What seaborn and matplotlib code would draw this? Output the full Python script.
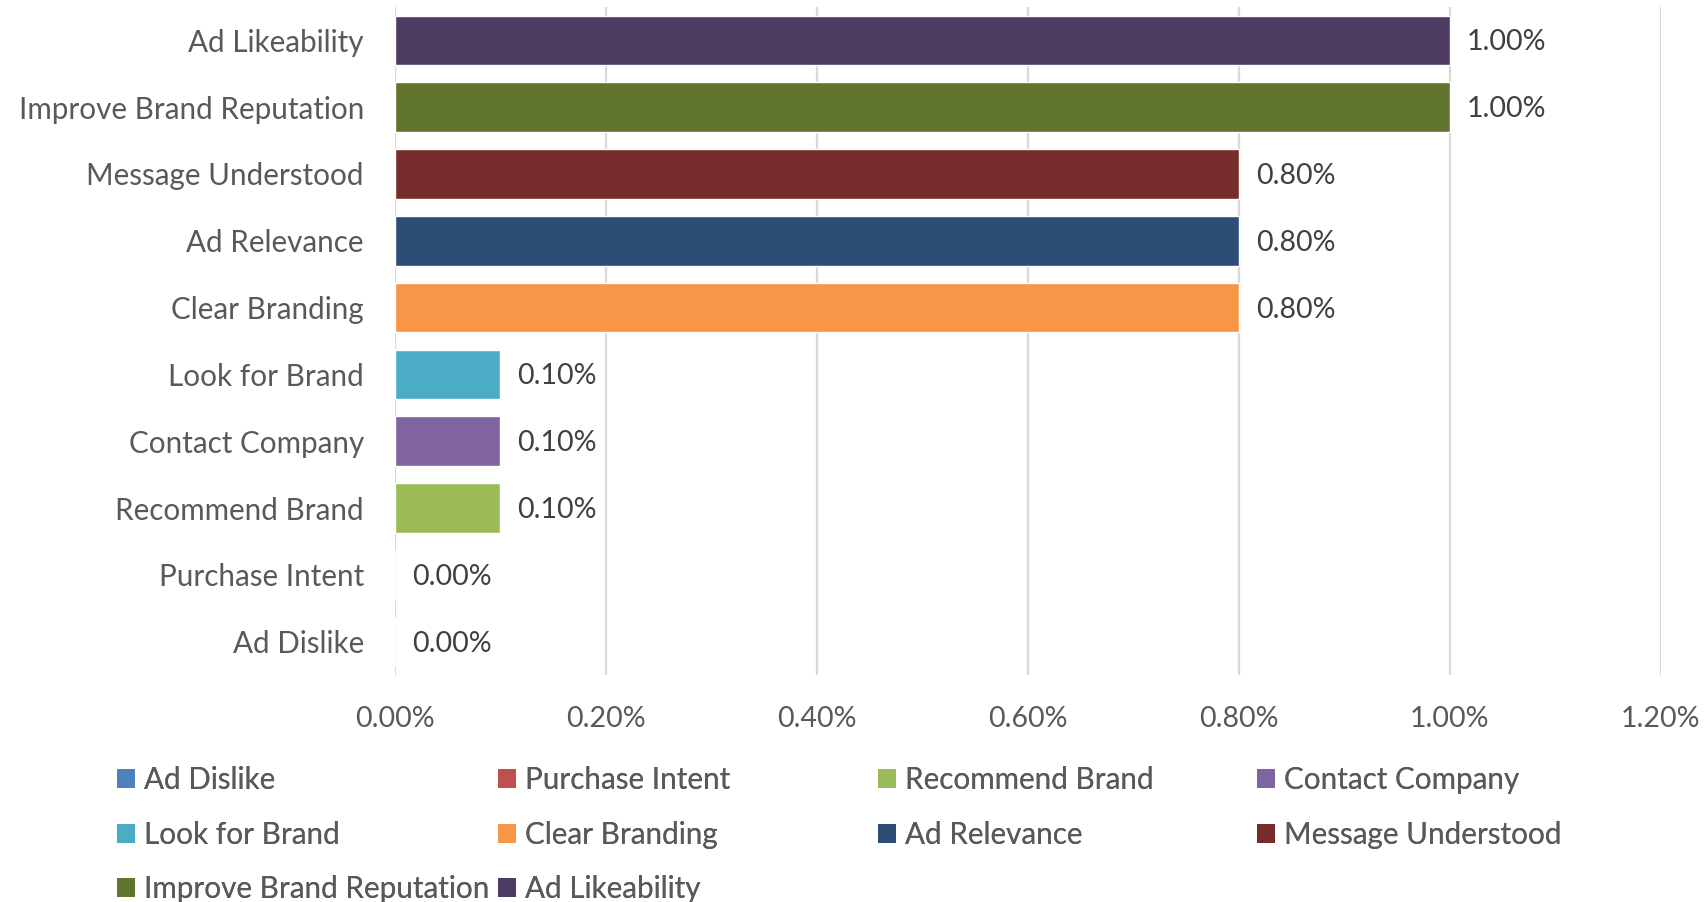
import matplotlib
matplotlib.use("Agg")
import matplotlib.pyplot as plt
from matplotlib.patches import Patch
import pandas as pd
import seaborn as sns

# Categories listed top to bottom, with their share of respondents (%)
categories = [
    "Ad Likeability", "Improve Brand Reputation", "Message Understood",
    "Ad Relevance", "Clear Branding", "Look for Brand", "Contact Company",
    "Recommend Brand", "Purchase Intent", "Ad Dislike",
]
values = [1.00, 1.00, 0.80, 0.80, 0.80, 0.10, 0.10, 0.10, 0.00, 0.00]
colors = [
    "#4E3B62", "#61752F", "#772B2A", "#2C4D75", "#F79646",
    "#4BACC6", "#8064A2", "#9BBB59", "#C0504D", "#4F81BD",
]
x_ticks = [0.0, 0.2, 0.4, 0.6, 0.8, 1.0, 1.2]

# Legend columns (each column read top to bottom)
legend_columns = [
    ["Ad Dislike", "Look for Brand", "Improve Brand Reputation"],
    ["Purchase Intent", "Clear Branding", "Ad Likeability"],
    ["Recommend Brand", "Ad Relevance"],
    ["Contact Company", "Message Understood"],
]

sns.set_style("white")
plt.rcParams["font.family"] = ["Lato", "DejaVu Sans"]

TEXT = "#595959"
LABEL = "#404040"
GRID = "#D9D9D9"
W, H = 1704, 902

df = pd.DataFrame({"category": categories, "value": values})
palette = dict(zip(categories, colors))

fig = plt.figure(figsize=(W / 100, H / 100), dpi=100)
ax = fig.add_axes([394.5 / W, 1 - 675 / H, (1660.5 - 394.5) / W, (675 - 7) / H])

sns.barplot(
    data=df, x="value", y="category", hue="category", order=categories,
    hue_order=categories, palette=palette, saturation=1, width=0.74,
    orient="h", legend=False, ax=ax,
)

pad = 12.5
for container in ax.containers:
    for ann in ax.bar_label(container, fmt="{:.2f}%", padding=pad,
                            fontsize=20.5, color=LABEL):
        ann.xyann = (pad, -1.5)

ax.set_xlim(0, 1.2)
ax.set_xticks(x_ticks)
ax.set_xticklabels([f"{t:.2f}%" for t in x_ticks])
ax.set_xlabel("")
ax.set_ylabel("")
ax.tick_params(axis="x", length=0, pad=22, labelsize=20.5, labelcolor=TEXT)
ax.tick_params(axis="y", length=0, pad=22, labelsize=21.3, labelcolor=TEXT)
ax.grid(axis="x", color=GRID, linewidth=1.6)
ax.grid(axis="y", visible=False)
ax.set_axisbelow(True)
for side in ["top", "right", "bottom", "left"]:
    ax.spines[side].set_visible(False)

# Legend laid out as four evenly spaced columns
col_x = [117, 498, 878, 1257]
for x0, col in zip(col_x, legend_columns):
    handles = [Patch(facecolor=palette[name], edgecolor="none") for name in col]
    leg = fig.legend(
        handles, col, loc="upper left", bbox_to_anchor=(x0 / W, 1 - 766 / H),
        frameon=False, fontsize=21.3, labelcolor=TEXT, handlelength=0.62,
        handleheight=0.62, handletextpad=0.3, labelspacing=0.9,
        borderpad=0, borderaxespad=0,
    )
    fig.add_artist(leg)

fig.savefig("out.png", dpi=100)
